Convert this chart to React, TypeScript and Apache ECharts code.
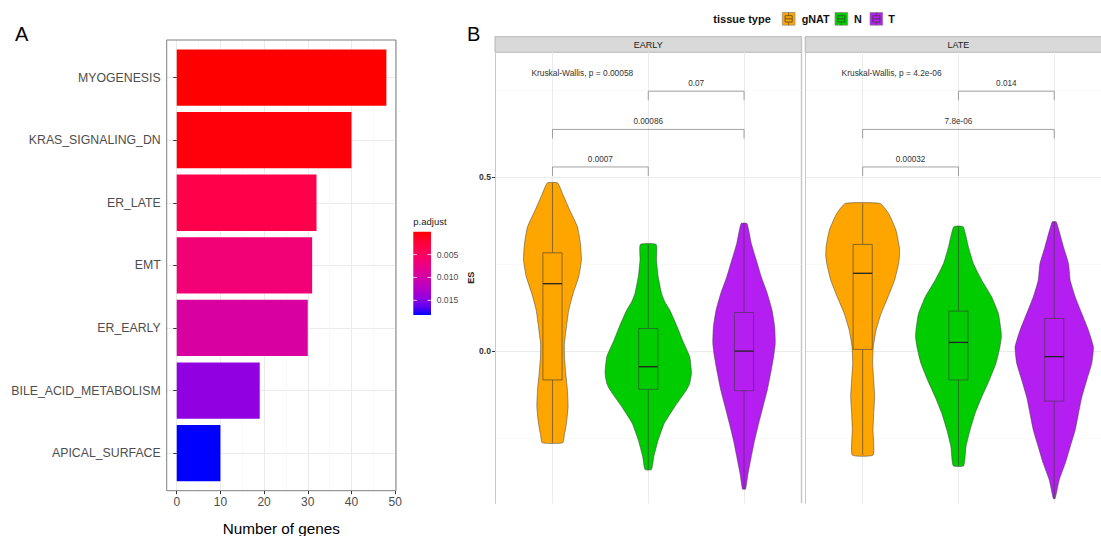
import React, { useEffect, useRef } from 'react';
import * as echarts from 'echarts';

// ---------------- Panel A data ----------------
const pathways = ['MYOGENESIS', 'KRAS_SIGNALING_DN', 'ER_LATE', 'EMT', 'ER_EARLY', 'BILE_ACID_METABOLISM', 'APICAL_SURFACE'];
const geneCounts = [48, 40, 32, 31, 30, 19, 10];
const pAdjust = [0.00001, 0.0004, 0.0036, 0.0064, 0.0095, 0.0146, 0.0182];
const countTicks = [0, 10, 20, 30, 40, 50];
const countMinorTicks = [5, 15, 25, 35, 45];
const pTicks = [0.005, 0.01, 0.015];
const pRange = [0, 0.0182];
const pColors = ['#ff0000', '#ff0030', '#ff004c', '#f80068', '#ec0082', '#dc009b', '#c800b4', '#b000cb', '#9200e0', '#6000f0', '#0000ff'];

// ---------------- Panel B data ----------------
const facets = ['EARLY', 'LATE'];
const tissueTypes = ['gNAT', 'N', 'T'];
const tissueColors = ['#FFA500', '#00CC00', '#B41EF0'];
const esMajorTicks = [0, 0.5];
const esMinorTicks = [-0.25, 0.25, 0.75];

// violin outlines: [ES, half width in group units]
const earlyGnatViolin = [[0.484, 0.054], [0.45, 0.11], [0.406, 0.18], [0.358, 0.26], [0.31, 0.292], [0.262, 0.302], [0.214, 0.274], [0.166, 0.216], [0.118, 0.17], [0.07, 0.146], [0.02, 0.124], [-0.02, 0.126], [-0.064, 0.139], [-0.112, 0.156], [-0.16, 0.163], [-0.208, 0.146], [-0.24, 0.125], [-0.264, 0.106]];
const earlyNViolin = [[0.307, 0.083], [0.262, 0.086], [0.214, 0.104], [0.166, 0.139], [0.142, 0.173], [0.118, 0.225], [0.07, 0.302], [0.03, 0.36], [-0.016, 0.433], [-0.064, 0.451], [-0.093, 0.433], [-0.112, 0.399], [-0.16, 0.277], [-0.208, 0.167], [-0.256, 0.104], [-0.304, 0.058], [-0.341, 0.034]];
const earlyTViolin = [[0.367, 0.031], [0.31, 0.076], [0.262, 0.128], [0.214, 0.18], [0.166, 0.243], [0.118, 0.292], [0.07, 0.32], [0.022, 0.326], [-0.016, 0.309], [-0.064, 0.278], [-0.112, 0.243], [-0.16, 0.198], [-0.208, 0.153], [-0.256, 0.111], [-0.304, 0.076], [-0.352, 0.042], [-0.397, 0.016]];
const lateGnatViolin = [[0.425, 0.182], [0.396, 0.271], [0.348, 0.348], [0.3, 0.382], [0.276, 0.385], [0.252, 0.375], [0.204, 0.333], [0.156, 0.265], [0.108, 0.192], [0.06, 0.14], [0.012, 0.111], [-0.035, 0.104], [-0.083, 0.115], [-0.132, 0.125], [-0.18, 0.115], [-0.227, 0.108], [-0.299, 0.109]];
const lateNViolin = [[0.358, 0.049], [0.3, 0.104], [0.252, 0.156], [0.204, 0.243], [0.156, 0.347], [0.108, 0.417], [0.06, 0.444], [0.041, 0.448], [0.012, 0.433], [-0.035, 0.392], [-0.083, 0.323], [-0.132, 0.243], [-0.18, 0.173], [-0.227, 0.121], [-0.275, 0.079], [-0.33, 0.055]];
const lateTViolin = [[0.372, 0.021], [0.3, 0.097], [0.252, 0.149], [0.204, 0.167], [0.156, 0.219], [0.108, 0.288], [0.06, 0.357], [0.012, 0.409], [-0.035, 0.392], [-0.083, 0.34], [-0.132, 0.288], [-0.18, 0.253], [-0.227, 0.219], [-0.275, 0.167], [-0.323, 0.115], [-0.371, 0.052], [-0.424, 0.01]];

// box stats: [min, Q1, median, Q3, max]
const earlyBoxes = [[-0.264, -0.083, 0.194, 0.283, 0.484], [-0.341, -0.11, -0.045, 0.065, 0.307], [-0.397, -0.114, 0.0, 0.111, 0.367]];
const lateBoxes = [[-0.299, 0.005, 0.224, 0.307, 0.425], [-0.33, -0.083, 0.025, 0.115, 0.358], [-0.424, -0.144, -0.016, 0.094, 0.372]];

const kruskalLabels = ['Kruskal-Wallis, p = 0.00058', 'Kruskal-Wallis, p = 4.2e-06'];
// comparisons: [group a, group b, bracket ES level]
const earlyComparisons = [[2, 3, 0.748], [1, 3, 0.638], [1, 2, 0.53]];
const earlyComparisonLabels = ['0.07', '0.00086', '0.0007'];
const lateComparisons = [[2, 3, 0.748], [1, 3, 0.638], [1, 2, 0.53]];
const lateComparisonLabels = ['0.014', '7.8e-06', '0.00032'];

const violins = [[earlyGnatViolin, earlyNViolin, earlyTViolin], [lateGnatViolin, lateNViolin, lateTViolin]];
const boxes = [earlyBoxes, lateBoxes];
const comparisons = [earlyComparisons, lateComparisons];
const comparisonLabels = [earlyComparisonLabels, lateComparisonLabels];

const FONT = '"Liberation Sans", Arial, Helvetica, sans-serif';

function buildOption() {
  const catPos = pathways.map((_, i) => i + 1);
  const gridLine = '#ebebeb';

  const aGrid = { left: 166.7, top: 40, width: 229.3, height: 450.7 };
  const bGrids = [
    { left: 495, top: 52.3, width: 306.5, height: 451 },
    { left: 805.2, top: 52.3, width: 306.5, height: 451 },
  ];
  const esMin = -0.438;
  const esMax = 0.86;

  const xAxes: any[] = [
    {
      gridIndex: 0, type: 'value', min: -2.3, max: 50.2, position: 'bottom',
      axisLine: { show: false }, axisTick: { show: false, customValues: countMinorTicks },
      axisLabel: { show: false }, splitLine: { show: true, lineStyle: { color: '#f3f3f3', width: 0.6 } },
    },
    {
      gridIndex: 0, type: 'value', min: -2.3, max: 50.2, position: 'bottom',
      axisLine: { show: false },
      axisTick: { show: true, customValues: countTicks, length: 3.5, lineStyle: { color: '#333' } },
      axisLabel: { customValues: countTicks, fontSize: 12, color: '#4d4d4d', margin: 5, fontFamily: FONT },
      splitLine: { show: true, lineStyle: { color: gridLine, width: 1 } },
      name: 'Number of genes', nameLocation: 'middle', nameGap: 30,
      nameTextStyle: { fontSize: 15.3, color: '#000', fontFamily: FONT },
    },
  ];
  facets.forEach((_, f) => {
    xAxes.push({
      gridIndex: 1 + f, type: 'value', min: 0.4, max: 3.6, position: 'bottom',
      axisLine: { show: false }, axisTick: { show: false, customValues: tissueTypes.map((_, i) => i + 1) },
      axisLabel: { show: false }, splitLine: { show: true, lineStyle: { color: gridLine, width: 1 } },
    });
  });

  const yAxes: any[] = [
    {
      gridIndex: 0, type: 'value', min: 0.4, max: 7.6, inverse: true, position: 'left',
      axisLine: { show: false },
      axisTick: { show: true, customValues: catPos, length: 3.5, lineStyle: { color: '#333' } },
      axisLabel: {
        customValues: catPos, formatter: (v: number) => pathways[Math.round(v) - 1],
        fontSize: 12.3, color: '#4d4d4d', margin: 6, fontFamily: FONT,
      },
      splitLine: { show: true, lineStyle: { color: gridLine, width: 1 } },
    },
  ];
  facets.forEach((_, f) => {
    yAxes.push({
      gridIndex: 1 + f, type: 'value', min: esMin, max: esMax, position: 'left',
      axisLine: { show: false }, axisTick: { show: false, customValues: esMinorTicks },
      axisLabel: { show: false }, splitLine: { show: true, lineStyle: { color: '#f3f3f3', width: 0.6 } },
    });
    yAxes.push({
      gridIndex: 1 + f, type: 'value', min: esMin, max: esMax, position: 'left',
      axisLine: { show: true, lineStyle: { color: '#c8c8c8', width: 1 } },
      axisTick: { show: f === 0, customValues: esMajorTicks, length: 3, lineStyle: { color: '#333' } },
      axisLabel: {
        show: f === 0, customValues: esMajorTicks, formatter: (v: number) => v.toFixed(1),
        fontSize: 8.6, fontWeight: 'bold', color: '#333', margin: 4, fontFamily: FONT,
      },
      splitLine: { show: true, lineStyle: { color: gridLine, width: 1 } },
      name: f === 0 ? 'ES' : '', nameLocation: 'middle', nameRotate: 90, nameGap: 15,
      nameTextStyle: { fontSize: 9, fontWeight: 'bold', color: '#222', fontFamily: FONT },
    });
  });

  const series: any[] = [
    {
      type: 'custom', name: 'genes', xAxisIndex: 1, yAxisIndex: 0,
      encode: { x: 0, y: 1 },
      data: pathways.map((_, i) => [geneCounts[i], i + 1, pAdjust[i]]),
      renderItem: (params: any, api: any) => {
        const val = api.value(0);
        const cat = api.value(1);
        const start = api.coord([0, cat]);
        const end = api.coord([val, cat]);
        const h = api.size([0, 0.9])[1];
        return {
          type: 'rect',
          shape: { x: start[0], y: start[1] - h / 2, width: end[0] - start[0], height: h },
          style: { fill: api.visual('color') },
        };
      },
    },
  ];

  facets.forEach((_, f) => {
    const xi = 2 + f;
    const yi = 2 + 2 * f;
    series.push({
      type: 'custom', name: 'violin-' + facets[f], xAxisIndex: xi, yAxisIndex: yi,
      encode: { x: 0, y: 1 },
      data: tissueTypes.map((_, i) => [i + 1, boxes[f][i][2]]),
      renderItem: (params: any, api: any) => {
        const i = params.dataIndex;
        const g = api.value(0);
        const prof = violins[f][i];
        const bx = boxes[f][i];
        const c = (x: number, y: number) => api.coord([x, y]);
        const right = prof.map(([v, w]) => c(g + w, v));
        const left = prof.slice().reverse().map(([v, w]) => c(g - w, v));
        const bw = 0.1;
        const tl = c(g - bw, bx[3]);
        const br = c(g + bw, bx[1]);
        const mL = c(g - bw, bx[2]);
        const mR = c(g + bw, bx[2]);
        const wTop = c(g, bx[4]);
        const q3 = c(g, bx[3]);
        const q1 = c(g, bx[1]);
        const wBot = c(g, bx[0]);
        const stroke = '#3a3a3a';
        return {
          type: 'group',
          children: [
            { type: 'polygon', shape: { points: right.concat(left), smooth: 0.15 }, style: { fill: tissueColors[i], stroke, lineWidth: 0.5 } },
            { type: 'line', shape: { x1: wTop[0], y1: wTop[1], x2: q3[0], y2: q3[1] }, style: { stroke, lineWidth: 0.6 } },
            { type: 'line', shape: { x1: q1[0], y1: q1[1], x2: wBot[0], y2: wBot[1] }, style: { stroke, lineWidth: 0.6 } },
            { type: 'rect', shape: { x: tl[0], y: tl[1], width: br[0] - tl[0], height: br[1] - tl[1] }, style: { fill: tissueColors[i], stroke, lineWidth: 0.6 } },
            { type: 'line', shape: { x1: mL[0], y1: mL[1], x2: mR[0], y2: mR[1] }, style: { stroke: '#222', lineWidth: 1.3 } },
          ],
        };
      },
    });
    series.push({
      type: 'custom', name: 'compare-' + facets[f], xAxisIndex: xi, yAxisIndex: yi,
      encode: { x: [0, 1], y: 2 },
      data: comparisons[f],
      renderItem: (params: any, api: any) => {
        const a = api.value(0);
        const b = api.value(1);
        const lvl = api.value(2);
        const tip = 0.026;
        const p1 = api.coord([a, lvl - tip]);
        const p2 = api.coord([a, lvl]);
        const p3 = api.coord([b, lvl]);
        const p4 = api.coord([b, lvl - tip]);
        return {
          type: 'group',
          children: [
            { type: 'polyline', shape: { points: [p1, p2, p3, p4] }, style: { stroke: '#8a8a8a', lineWidth: 0.8, fill: 'none' } },
            {
              type: 'text',
              style: {
                text: comparisonLabels[f][params.dataIndex], x: (p2[0] + p3[0]) / 2, y: p2[1] - 3.5,
                align: 'center', verticalAlign: 'bottom', fontSize: 8.2, fill: '#333', fontFamily: FONT,
              },
            },
          ],
        };
      },
    });
    series.push({
      type: 'custom', name: 'kw-' + facets[f], xAxisIndex: xi, yAxisIndex: yi,
      encode: { x: 0, y: 1 },
      data: [[0.78, 0.8]],
      renderItem: (params: any, api: any) => {
        const p = api.coord([api.value(0), api.value(1)]);
        return {
          type: 'text',
          style: { text: kruskalLabels[f], x: p[0], y: p[1], align: 'left', verticalAlign: 'middle', fontSize: 8.4, fill: '#333', fontFamily: FONT },
        };
      },
    });
  });

  // ---------- graphic elements ----------
  const graphic: any[] = [];
  graphic.push({ type: 'text', left: 15, top: 24, style: { text: 'A', fontSize: 20, fill: '#000', fontFamily: FONT } });
  graphic.push({ type: 'text', left: 467, top: 24, style: { text: 'B', fontSize: 20, fill: '#000', fontFamily: FONT } });
  // panel A frame
  graphic.push({
    type: 'rect', z: 100, shape: { x: aGrid.left, y: aGrid.top, width: aGrid.width, height: aGrid.height },
    style: { fill: 'none', stroke: '#7f7f7f', lineWidth: 1 },
  });
  // colorbar
  const cb = { x: 413.3, y: 231.7, w: 17.7, h: 83.3 };
  graphic.push({ type: 'text', x: cb.x, y: 221.5, style: { text: 'p.adjust', fontSize: 9.5, fill: '#222', fontFamily: FONT, verticalAlign: 'middle' } });
  graphic.push({
    type: 'rect', shape: { x: cb.x, y: cb.y, width: cb.w, height: cb.h },
    style: {
      fill: {
        type: 'linear', x: 0, y: 0, x2: 0, y2: 1,
        colorStops: pColors.map((col, i) => ({ offset: i / (pColors.length - 1), color: col })),
      },
    },
  });
  pTicks.forEach((p) => {
    const y = cb.y + ((p - pRange[0]) / (pRange[1] - pRange[0])) * cb.h;
    graphic.push({ type: 'line', shape: { x1: cb.x, y1: y, x2: cb.x + 3.5, y2: y }, style: { stroke: '#fff', lineWidth: 0.8 } });
    graphic.push({ type: 'line', shape: { x1: cb.x + cb.w - 3.5, y1: y, x2: cb.x + cb.w, y2: y }, style: { stroke: '#fff', lineWidth: 0.8 } });
    graphic.push({ type: 'text', x: 436.7, y, style: { text: p.toFixed(3), fontSize: 8.6, fill: '#4d4d4d', fontFamily: FONT, verticalAlign: 'middle' } });
  });
  // facet strips & panel borders
  facets.forEach((name, f) => {
    const g = bGrids[f];
    graphic.push({
      type: 'rect', shape: { x: g.left, y: 36.7, width: g.width, height: 15.6 },
      style: { fill: '#d9d9d9', stroke: '#a8a8a8', lineWidth: 0.8 },
    });
    graphic.push({
      type: 'text', x: g.left + g.width / 2, y: 44.6,
      style: { text: name, fontSize: 9, fill: '#222', fontFamily: FONT, align: 'center', verticalAlign: 'middle' },
    });
  });
  graphic.push({ type: 'line', shape: { x1: 801.5, y1: 36.7, x2: 801.5, y2: 503.3 }, style: { stroke: '#c4c4c4', lineWidth: 1.4 } });
  // legend
  graphic.push({ type: 'text', x: 713.3, y: 19, style: { text: 'tissue type', fontSize: 11, fontWeight: 'bold', fill: '#111', fontFamily: FONT, verticalAlign: 'middle' } });
  const keyX = [782.3, 835, 870];
  const labelX = [801.7, 854, 888.3];
  tissueTypes.forEach((t, i) => {
    const x = keyX[i];
    const y = 12.5;
    const s = 12.7;
    graphic.push({
      type: 'group', children: [
        { type: 'rect', shape: { x, y, width: s, height: s }, style: { fill: tissueColors[i], stroke: '#8a8a8a', lineWidth: 0.7 } },
        { type: 'rect', shape: { x: x + 2.8, y: y + 3.2, width: s - 5.6, height: s - 6.4 }, style: { fill: 'none', stroke: '#3a3a3a', lineWidth: 0.7 } },
        { type: 'line', shape: { x1: x + 2.8, y1: y + s / 2, x2: x + s - 2.8, y2: y + s / 2 }, style: { stroke: '#3a3a3a', lineWidth: 0.8 } },
        { type: 'line', shape: { x1: x + s / 2, y1: y, x2: x + s / 2, y2: y + 3.2 }, style: { stroke: '#3a3a3a', lineWidth: 0.6 } },
        { type: 'line', shape: { x1: x + s / 2, y1: y + s - 3.2, x2: x + s / 2, y2: y + s }, style: { stroke: '#3a3a3a', lineWidth: 0.6 } },
      ],
    });
    graphic.push({ type: 'text', x: labelX[i], y: 19, style: { text: t, fontSize: 10.8, fontWeight: 'bold', fill: '#111', fontFamily: FONT, verticalAlign: 'middle' } });
  });

  return {
    animation: false,
    backgroundColor: '#fff',
    textStyle: { fontFamily: FONT },
    grid: [aGrid, ...bGrids].map((g) => ({ ...g, containLabel: false, outerBoundsMode: 'none' })),
    xAxis: xAxes,
    yAxis: yAxes,
    visualMap: {
      type: 'continuous', show: false, seriesIndex: 0, dimension: 2,
      min: pRange[0], max: pRange[1], inRange: { color: pColors },
    },
    series,
    graphic,
  };
}

export default function App() {
  const ref = useRef<HTMLDivElement>(null);
  useEffect(() => {
    if (!ref.current) return;
    const chart = echarts.init(ref.current, null, { renderer: 'svg' });
    chart.setOption(buildOption() as any);
    return () => chart.dispose();
  }, []);
  return (
    <div
      ref={ref}
      style={{ position: 'absolute', left: 0, top: 0, width: 1101, height: 536, overflow: 'hidden', background: '#fff' }}
    />
  );
}
